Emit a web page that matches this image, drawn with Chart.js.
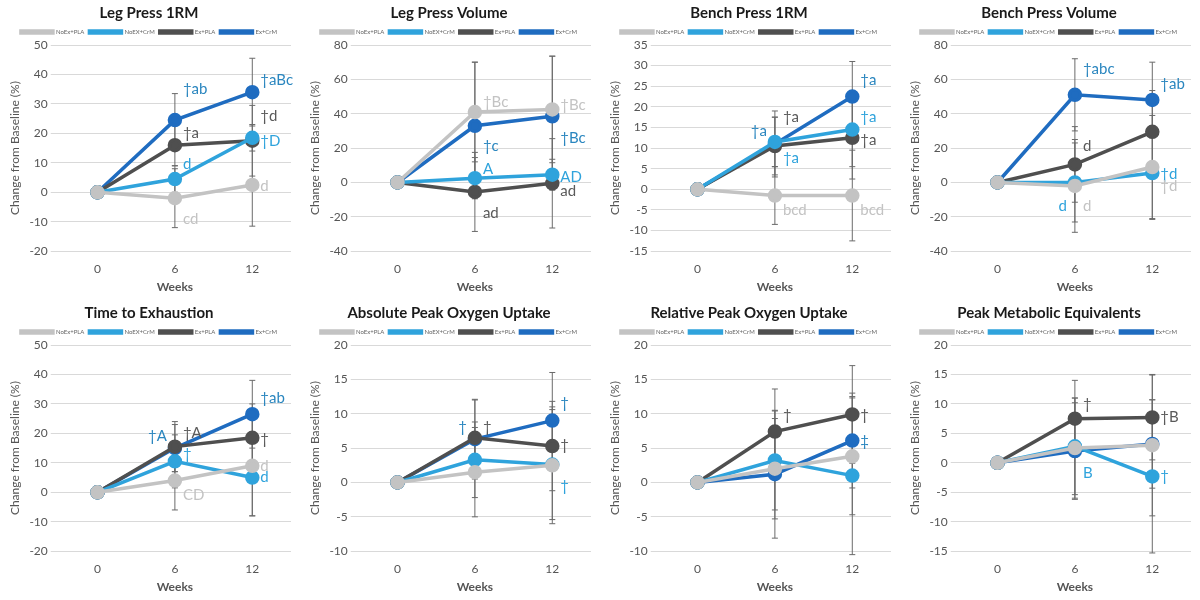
<!DOCTYPE html>
<html><head><meta charset="utf-8">
<script src="https://cdn.jsdelivr.net/npm/chart.js@4.4.1/dist/chart.umd.min.js"></script>
<style>
body{margin:0;background:#fff;width:1200px;height:600px;overflow:hidden}
#g{display:grid;grid-template-columns:repeat(4,300px);grid-template-rows:repeat(2,300px)}
.c{position:relative;width:300px;height:300px}
</style></head><body><div id="g"></div>
<script>
const weeks = [0, 6, 12];
const seriesNames = ["NoEx+PLA", "NoEX+CrM", "Ex+PLA", "Ex+CrM"];
const seriesColors = ["#c3c3c3", "#2fa3dc", "#4f4f4f", "#1f6cc0"];
const annotColors = ["#c3c3c3", "#2fa3dc", "#5a5a5a", "#2a86bf"];
const titles = ["Leg Press 1RM","Leg Press Volume","Bench Press 1RM","Bench Press Volume",
  "Time to Exhaustion","Absolute Peak Oxygen Uptake","Relative Peak Oxygen Uptake","Peak Metabolic Equivalents"];
const yRanges = [[-20,50,10],[-40,80,20],[-15,35,5],[-40,80,20],[-20,50,10],[-10,20,5],[-10,20,5],[-15,20,5]];

// values [series][week]
const legPress1RM = [[0,-2,2.5],[0,4.5,18.5],[0,16,17.5],[0,24.5,34]];
const legPressVol = [[0,41,42.5],[0,2.5,4.5],[0,-5.5,-0.5],[0,33,38.5]];
const bench1RM = [[0,-1.5,-1.5],[0,11.5,14.5],[0,10.5,12.5],[0,11,22.5]];
const benchVol = [[0,-2,9],[0,0,5.5],[0,10.5,29.5],[0,51,48]];
const timeExh = [[0,4,9],[0,10.5,5],[0,15.5,18.5],[0,15,26.5]];
const absVO2 = [[0,1.5,2.5],[0,3.3,2.6],[0,6.5,5.3],[0,6.3,9]];
const relVO2 = [[0,2,3.8],[0,3.2,1],[0,7.4,9.9],[0,1.2,6.1]];
const peakMETs = [[0,2.5,3],[0,2.8,-2.3],[0,7.5,7.7],[0,2,3.2]];
const values = [legPress1RM, legPressVol, bench1RM, benchVol, timeExh, absVO2, relVO2, peakMETs];

// error (SD) [series][week]
const errLegPress1RM = [[0,10,14],[0,4.5,4.5],[0,7,12],[0,9,11.5]];
const errLegPressVol = [[0,29,31],[0,12,9],[0,23,26],[0,37,35]];
const errBench1RM = [[0,7,11],[0,6,9],[0,7,10],[0,8,8.5]];
const errBenchVol = [[0,27,30],[0,23,27],[0,22,24],[0,21,22]];
const errTimeExh = [[0,10,17],[0,9,13],[0,8.5,11.5],[0,8,11.5]];
const errAbsVO2 = [[0,6.5,8.5],[0,5.5,8],[0,5.5,6.5],[0,5.8,7]];
const errRelVO2 = [[0,7.3,8.5],[0,7.2,11.5],[0,6.2,7.1],[0,9.3,6.9]];
const errPeakMETs = [[0,8.5,12],[0,8.2,13],[0,6.5,7.2],[0,8.2,7.5]];
const errors = [errLegPress1RM, errLegPressVol, errBench1RM, errBenchVol, errTimeExh, errAbsVO2, errRelVO2, errPeakMETs];

// annotations: [series, weekIndex, text, labelY, side]
const annotations = [
  [[3,1,"†ab",35,"r"],[3,2,"†aBc",38,"r"],[2,1,"†a",20,"r"],[2,2,"†d",26,"r"],[1,1,"d",9.5,"r"],[1,2,"†D",17.5,"r"],[0,1,"cd",-9,"r"],[0,2,"d",2,"r"]],
  [[0,1,"†Bc",47,"r"],[0,2,"†Bc",45,"r"],[3,1,"†c",21,"r"],[3,2,"†Bc",26,"r"],[1,1,"A",8,"r"],[1,2,"AD",3,"r"],[2,1,"ad",-18,"r"],[2,2,"ad",-5,"r"]],
  [[3,1,"†a",14,"l"],[3,2,"†a",26.5,"r"],[2,1,"†a",17.5,"r"],[2,2,"†a",12,"r"],[1,1,"†a",7.5,"r"],[1,2,"†a",17.5,"r"],[0,1,"bcd",-5,"r"],[0,2,"bcd",-5,"r"]],
  [[3,1,"†abc",66,"r"],[3,2,"†ab",57,"r"],[2,1,"d",21,"r"],[1,1,"d",-14,"l"],[1,2,"†d",5,"r"],[0,1,"d",-14,"r"],[0,2,"†d",-2,"r"]],
  [[3,1,"†A",19,"l"],[3,2,"†ab",32,"r"],[2,1,"†A",20,"r"],[2,2,"†",18,"r"],[1,1,"†",13,"r"],[1,2,"d",5,"r"],[0,1,"CD",-1,"r"],[0,2,"d",9,"r"]],
  [[3,1,"†",8,"l"],[3,2,"†",11.5,"r"],[2,1,"†",8,"r"],[2,2,"†",5.5,"r"],[1,2,"†",-0.5,"r"]],
  [[2,1,"†",9.8,"r"],[2,2,"†",9.8,"r"],[3,2,"‡",6,"r"]],
  [[2,1,"†",10,"r"],[2,2,"†B",7.8,"r"],[1,1,"B",-1.8,"r"],[1,2,"†",-2.3,"r"]]
];

const FONT = "Lato, 'Open Sans', sans-serif";

const errPlugin = {
  id:"errbars",
  beforeDatasetsDraw(chart){
    const {ctx, scales:{x,y}} = chart;
    const p = chart.options.plugins.errbars;
    ctx.save(); ctx.strokeStyle="#6a6a6a"; ctx.lineWidth=1;
    p.err.forEach((se,s)=>se.forEach((e,i)=>{
      if(!e) return;
      const v = p.vals[s][i], px = x.getPixelForValue(weeks[i]);
      const t = y.getPixelForValue(v+e), b = y.getPixelForValue(v-e);
      ctx.beginPath(); ctx.moveTo(px,t); ctx.lineTo(px,b);
      ctx.moveTo(px-3,t); ctx.lineTo(px+3,t); ctx.moveTo(px-3,b); ctx.lineTo(px+3,b); ctx.stroke();
    }));
    ctx.restore();
  },
  afterDatasetsDraw(chart){
    const {ctx, scales:{x,y}} = chart;
    const p = chart.options.plugins.errbars;
    ctx.save(); ctx.font = "15px "+FONT; ctx.textBaseline="middle";
    p.ann.forEach(([s,i,t,ly,side])=>{
      const px = x.getPixelForValue(weeks[i]);
      ctx.fillStyle = annotColors[s];
      ctx.textAlign = side==="r" ? "left":"right";
      ctx.fillText(t, px + (side==="r"?8:-8), y.getPixelForValue(ly));
    });
    ctx.restore();
  }
};

const g = document.getElementById("g");
titles.forEach((title,k)=>{
  const d = document.createElement("div"); d.className="c";
  const cv = document.createElement("canvas"); d.appendChild(cv); g.appendChild(d);
  const [mn,mx,st] = yRanges[k];
  new Chart(cv,{
    type:"line",
    data:{datasets: seriesNames.map((n,s)=>({
      label:n, data: weeks.map((w,i)=>({x:w,y:values[k][s][i]})),
      borderColor:seriesColors[s], backgroundColor:seriesColors[s],
      borderWidth:3.5, pointRadius:5.5, pointHoverRadius:5.5, tension:0
    }))},
    plugins:[errPlugin],
    options:{
      responsive:true, maintainAspectRatio:false, animation:false,
      layout:{padding:{left:4,right:6,bottom:2}},
      plugins:{
        errbars:{vals:values[k], err:errors[k], ann:annotations[k]},
        title:{display:true,text:title,color:"#1a1a1a",font:{family:FONT,size:15,weight:"bold"},padding:{top:4,bottom:2}},
        legend:{labels:{font:{family:FONT,size:6},color:"#666",boxWidth:32,boxHeight:2,padding:5}},
        tooltip:{enabled:false}
      },
      scales:{
        x:{type:"linear",min:-3,max:15,afterBuildTicks(a){a.ticks=weeks.map(v=>({value:v}));},
          grid:{display:false},border:{display:false},
          ticks:{color:"#555",font:{family:FONT,size:12}},
          title:{display:true,text:"Weeks",color:"#555",font:{family:FONT,size:12,weight:"bold"},padding:{top:0}}},
        y:{min:mn,max:mx,ticks:{stepSize:st,color:"#555",font:{family:FONT,size:12}},
          grid:{color:"#d9d9d9"},border:{display:false},
          title:{display:true,text:"Change from Baseline (%)",color:"#555",font:{family:FONT,size:12}}}
      }
    }
  });
});
</script></body></html>
